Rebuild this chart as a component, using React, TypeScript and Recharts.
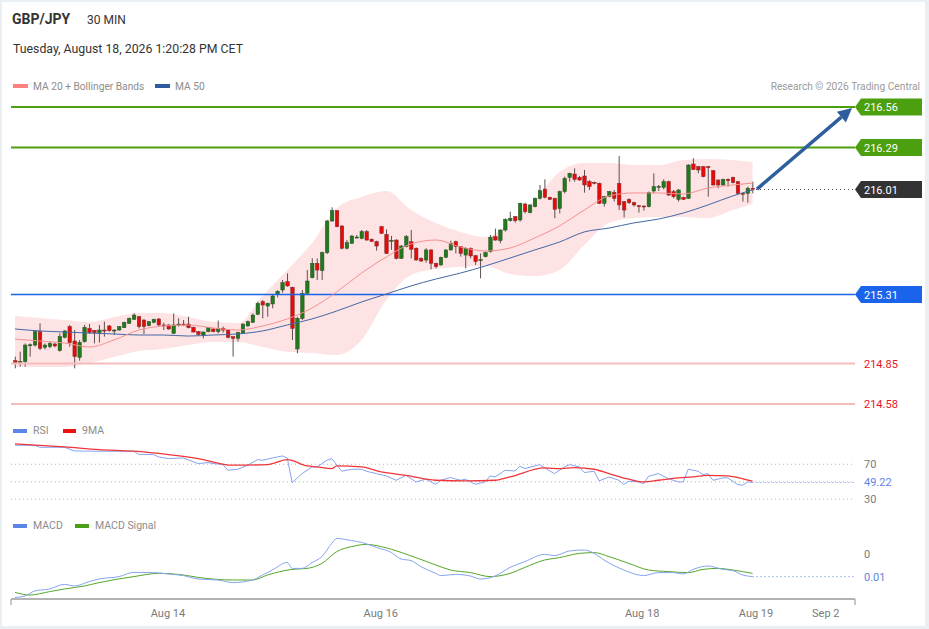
import React from 'react';
import { ComposedChart, Bar, Line, Area, XAxis, YAxis, ReferenceLine, ReferenceDot } from 'recharts';

// x positions are candle indexes (30 min bars), the domain leaves room for the tags on the right
const X_MIN = -0.81;
const X_MAX = 169.7;
const PRICE_DOMAIN: [number, number] = [214.5, 216.64];
const RSI_DOMAIN: [number, number] = [20, 102.3];
const MACD_DOMAIN: [number, number] = [-0.0225, 0.012];

// [open, high, low, close]
const CANDLES: [number, number, number, number][] = [
  [214.869, 214.896, 214.818, 214.856], [214.858, 214.929, 214.829, 214.864], [214.862, 214.984, 214.829, 214.973],
  [214.972, 214.984, 214.896, 214.975], [214.973, 215.073, 214.962, 215.062], [215.062, 215.118, 214.94, 214.951],
  [214.958, 214.984, 214.944, 214.973], [214.962, 214.996, 214.951, 214.984], [214.98, 214.989, 214.958, 214.967],
  [214.936, 215.051, 214.929, 215.029], [215.024, 215.073, 215.018, 215.067], [215.096, 215.107, 214.962, 214.989],
  [215.0, 215.073, 214.818, 214.896], [214.891, 215.007, 214.869, 214.991], [214.996, 215.107, 214.989, 215.091],
  [215.084, 215.113, 215.047, 215.056], [215.071, 215.073, 214.984, 215.056], [215.056, 215.107, 214.989, 215.073],
  [215.073, 215.129, 215.029, 215.071], [215.1, 215.107, 215.062, 215.069], [215.071, 215.078, 215.04, 215.073],
  [215.073, 215.1, 215.069, 215.096], [215.089, 215.129, 215.087, 215.124], [215.118, 215.156, 215.113, 215.151],
  [215.144, 215.184, 215.14, 215.173], [215.162, 215.167, 215.084, 215.096], [215.14, 215.144, 215.047, 215.096],
  [215.102, 215.133, 215.098, 215.129], [215.124, 215.149, 215.118, 215.144], [215.147, 215.151, 215.096, 215.107],
  [215.107, 215.122, 215.073, 215.105], [215.107, 215.111, 215.076, 215.08], [215.051, 215.184, 215.047, 215.107],
  [215.111, 215.151, 215.096, 215.113], [215.113, 215.14, 215.1, 215.111], [215.113, 215.162, 215.084, 215.089],
  [215.091, 215.096, 215.056, 215.06], [215.062, 215.067, 215.038, 215.044], [215.04, 215.062, 215.018, 215.06],
  [215.062, 215.093, 215.058, 215.089], [215.08, 215.087, 215.058, 215.062], [215.062, 215.136, 215.051, 215.084],
  [215.084, 215.096, 215.056, 215.073], [215.073, 215.078, 215.018, 215.024], [215.029, 215.029, 214.896, 215.018],
  [215.018, 215.062, 214.996, 215.056], [215.051, 215.118, 215.047, 215.113], [215.1, 215.136, 215.096, 215.129],
  [215.124, 215.184, 215.122, 215.173], [215.178, 215.262, 215.173, 215.251], [215.262, 215.273, 215.151, 215.24],
  [215.233, 215.256, 215.162, 215.251], [215.247, 215.307, 215.218, 215.3], [215.313, 215.34, 215.291, 215.331],
  [215.34, 215.407, 215.322, 215.389], [215.396, 215.451, 215.362, 215.367], [215.358, 215.362, 215.007, 215.084],
  [214.947, 215.162, 214.918, 215.151], [215.151, 215.34, 215.14, 215.318], [215.318, 215.473, 215.316, 215.4],
  [215.422, 215.551, 215.418, 215.518], [215.518, 215.551, 215.407, 215.473], [215.469, 215.596, 215.407, 215.589],
  [215.589, 215.807, 215.58, 215.8], [215.8, 215.891, 215.796, 215.869], [215.869, 215.873, 215.758, 215.762],
  [215.767, 215.771, 215.611, 215.618], [215.618, 215.673, 215.611, 215.656], [215.651, 215.707, 215.647, 215.7],
  [215.691, 215.707, 215.684, 215.693], [215.684, 215.74, 215.678, 215.729], [215.729, 215.74, 215.669, 215.673],
  [215.678, 215.684, 215.66, 215.664], [215.662, 215.669, 215.602, 215.633], [215.762, 215.767, 215.713, 215.718],
  [215.711, 215.744, 215.58, 215.584], [215.669, 215.7, 215.607, 215.671], [215.673, 215.678, 215.544, 215.551],
  [215.551, 215.64, 215.547, 215.633], [215.629, 215.707, 215.624, 215.696], [215.662, 215.74, 215.551, 215.611],
  [215.618, 215.624, 215.536, 215.54], [215.551, 215.558, 215.529, 215.533], [215.54, 215.618, 215.522, 215.607],
  [215.607, 215.611, 215.478, 215.518], [215.518, 215.522, 215.484, 215.496], [215.507, 215.562, 215.502, 215.558],
  [215.558, 215.611, 215.553, 215.607], [215.607, 215.669, 215.602, 215.651], [215.662, 215.669, 215.584, 215.629],
  [215.629, 215.633, 215.562, 215.584], [215.573, 215.624, 215.484, 215.618], [215.618, 215.624, 215.551, 215.567],
  [215.569, 215.573, 215.507, 215.529], [215.54, 215.584, 215.418, 215.542], [215.562, 215.596, 215.558, 215.589],
  [215.596, 215.707, 215.589, 215.691], [215.696, 215.749, 215.669, 215.673], [215.669, 215.744, 215.651, 215.74],
  [215.74, 215.818, 215.729, 215.811], [215.802, 215.862, 215.796, 215.818], [215.829, 215.833, 215.789, 215.802],
  [215.807, 215.922, 215.796, 215.918], [215.913, 215.922, 215.851, 215.862], [215.856, 215.911, 215.851, 215.907],
  [215.896, 215.956, 215.891, 215.951], [215.951, 216.04, 215.944, 216.002], [216.013, 216.078, 215.951, 215.958],
  [215.958, 215.962, 215.94, 215.944], [215.951, 215.956, 215.818, 215.878], [215.884, 216.002, 215.851, 215.996],
  [215.996, 216.096, 215.984, 216.084], [216.091, 216.122, 216.062, 216.118], [216.113, 216.151, 216.062, 216.078],
  [216.091, 216.1, 216.069, 216.073], [216.1, 216.14, 215.989, 216.04], [216.062, 216.073, 216.007, 216.029],
  [216.058, 216.062, 216.044, 216.051], [216.051, 216.056, 215.913, 215.918], [215.918, 215.967, 215.896, 215.962],
  [215.962, 216.0, 215.958, 215.996], [215.991, 216.007, 215.929, 215.951], [216.051, 216.233, 215.873, 215.907],
  [215.929, 215.933, 215.824, 215.873], [215.944, 215.951, 215.913, 215.922], [215.922, 215.929, 215.896, 215.907],
  [215.902, 215.907, 215.856, 215.9], [215.9, 215.904, 215.869, 215.898], [215.896, 215.996, 215.891, 215.989],
  [216.0, 216.118, 215.984, 216.029], [216.029, 216.04, 216.0, 216.031], [216.024, 216.078, 216.011, 216.062],
  [216.062, 216.069, 215.967, 215.973], [215.996, 216.007, 215.951, 215.962], [215.944, 216.011, 215.929, 216.007],
  [215.958, 215.962, 215.94, 215.944], [215.951, 216.178, 215.947, 216.173], [216.18, 216.218, 216.14, 216.144],
  [216.162, 216.167, 216.118, 216.14], [216.162, 216.167, 216.091, 216.096], [216.162, 216.167, 215.962, 216.16],
  [216.136, 216.14, 216.036, 216.04], [216.073, 216.078, 216.018, 216.04], [216.04, 216.082, 216.036, 216.078],
  [216.078, 216.084, 216.029, 216.069], [216.091, 216.096, 216.051, 216.056], [216.062, 216.067, 215.98, 215.984],
  [215.984, 215.989, 215.929, 215.982], [215.984, 216.029, 215.922, 216.018], [216.018, 216.062, 215.984, 216.01],
];

const BAND_IDX = [0, 5, 10, 15, 20, 25, 30, 35, 40, 45, 50, 55, 60, 65, 70, 75, 80, 85, 90, 95, 100, 105, 110, 115, 120, 125, 130, 135, 140, 145, 149];
const BAND_UPPER = [215.167, 215.153, 215.14, 215.127, 215.16, 215.187, 215.187, 215.16, 215.127, 215.12, 215.3, 215.473, 215.653, 215.887, 215.96, 216.0, 215.873, 215.787, 215.727, 215.693, 215.793, 215.94, 216.127, 216.187, 216.187, 216.173, 216.173, 216.207, 216.213, 216.207, 216.193];
const BAND_LOWER = [214.827, 214.827, 214.827, 214.853, 214.893, 214.933, 214.947, 214.973, 214.993, 214.993, 214.96, 214.927, 214.92, 214.907, 215.007, 215.273, 215.44, 215.48, 215.493, 215.5, 215.447, 215.433, 215.473, 215.64, 215.787, 215.82, 215.827, 215.827, 215.82, 215.873, 215.913];
const MA20 = [215.013, 215.0, 214.987, 214.96, 215.007, 215.073, 215.1, 215.107, 215.087, 215.073, 215.1, 215.147, 215.22, 215.327, 215.453, 215.56, 215.647, 215.673, 215.627, 215.6, 215.62, 215.687, 215.767, 215.873, 215.967, 215.987, 215.987, 215.98, 216.02, 216.04, 216.053];
const MA50 = [215.08, 215.067, 215.06, 215.053, 215.047, 215.04, 215.04, 215.033, 215.04, 215.047, 215.067, 215.107, 215.147, 215.2, 215.26, 215.313, 215.367, 215.413, 215.453, 215.5, 215.553, 215.607, 215.66, 215.727, 215.753, 215.787, 215.813, 215.853, 215.907, 215.967, 216.007];

const RSI_IDX = [0, 4, 5, 10, 12, 17, 24, 25, 28, 29, 31, 34, 37, 39, 40, 42, 43, 45, 47, 49, 50, 52, 54, 55, 56, 58, 60, 61, 63, 64, 66, 68, 70, 71, 73, 75, 77, 79, 81, 83, 85, 86, 88, 90, 91, 93, 95, 96, 97, 99, 101, 102, 103, 106, 107, 109, 111, 112, 114, 115, 117, 118, 120, 122, 123, 124, 126, 127, 128, 130, 132, 134, 135, 136, 138, 139, 140, 141, 143, 144, 146, 147, 148, 149];
const RSI_VAL = [91.7, 91.7, 89.4, 89.4, 85.2, 84.9, 84.9, 81.4, 81.0, 78.4, 76.5, 77.2, 70.8, 71.9, 70.8, 69.6, 63.1, 64.3, 68.9, 75.3, 74.6, 77.2, 79.5, 77.2, 49.0, 59.3, 67.0, 67.0, 74.6, 76.5, 62.0, 64.3, 64.3, 62.0, 59.3, 56.7, 51.7, 57.4, 49.8, 52.9, 47.1, 51.7, 54.8, 51.7, 52.9, 47.1, 49.8, 56.7, 55.5, 63.1, 62.3, 67.7, 65.0, 69.6, 65.8, 59.3, 67.0, 69.6, 67.0, 60.5, 62.0, 51.0, 55.5, 51.7, 46.8, 50.6, 49.8, 47.9, 56.3, 59.3, 53.6, 49.8, 49.8, 64.3, 62.0, 58.2, 59.3, 51.7, 54.4, 54.4, 46.8, 46.0, 49.8, 49.22];
const RSI_MA_IDX = [0, 10, 17, 24, 31, 37, 44, 51, 55, 59, 61, 64, 65, 70, 74, 79, 85, 91, 97, 100, 107, 110, 113, 117, 120, 124, 127, 130, 134, 137, 140, 144, 146, 149];
const RSI_MA_VAL = [93.2, 89.8, 86.8, 84.9, 81.0, 76.5, 68.9, 69.6, 75.3, 68.1, 67.0, 65.0, 68.1, 67.0, 61.2, 57.4, 51.7, 51.0, 51.7, 55.5, 65.8, 65.0, 66.2, 64.3, 59.3, 52.9, 49.8, 51.7, 54.4, 55.5, 57.4, 56.7, 54.8, 50.6];
const RSI_LEVELS = [70, 50, 30];

const MACD_IDX = [0, 2, 4, 7, 10, 12, 15, 17, 21, 24, 28, 31, 34, 37, 41, 44, 48, 50, 52, 55, 56, 58, 60, 62, 64, 65, 68, 70, 73, 76, 78, 80, 82, 85, 86, 89, 92, 94, 97, 100, 103, 107, 109, 112, 115, 117, 119, 123, 127, 130, 133, 135, 137, 140, 143, 145, 147, 149];
const MACD_VAL = [-0.0217, -0.021, -0.0185, -0.0175, -0.0152, -0.016, -0.0138, -0.0125, -0.0113, -0.0092, -0.0093, -0.01, -0.0108, -0.0125, -0.013, -0.0143, -0.013, -0.0105, -0.008, -0.0042, -0.0072, -0.0072, -0.0043, -0.0013, 0.0053, 0.0078, 0.0067, 0.0058, 0.0033, 0.0008, -0.0025, -0.0033, -0.0063, -0.0097, -0.0108, -0.0102, -0.011, -0.0125, -0.011, -0.0067, -0.0038, -0.0002, -0.0008, 0.0015, 0.002, 0.0003, -0.003, -0.008, -0.0108, -0.0093, -0.0093, -0.01, -0.0077, -0.006, -0.0077, -0.0083, -0.0105, -0.0113];
const SIGNAL_IDX = [0, 3, 7, 10, 14, 17, 24, 29, 34, 37, 44, 48, 51, 56, 59, 62, 65, 68, 71, 74, 78, 81, 85, 88, 92, 96, 100, 103, 107, 110, 114, 117, 120, 124, 128, 132, 136, 139, 142, 145, 149];
const SIGNAL_VAL = [-0.0192, -0.0205, -0.0188, -0.0175, -0.016, -0.0143, -0.0113, -0.0097, -0.0105, -0.0117, -0.013, -0.013, -0.0105, -0.0077, -0.0072, -0.0047, 0.0012, 0.0037, 0.0048, 0.0037, 0.0008, -0.0018, -0.0055, -0.008, -0.0093, -0.0113, -0.0097, -0.0067, -0.003, -0.0018, 0.0003, 0.0007, -0.0013, -0.0047, -0.008, -0.0088, -0.0093, -0.0077, -0.0072, -0.008, -0.0097];

const TICK_POS = [30.9, 73.9, 126.7, 149.7, 163.8];
const TICK_LABELS = ['Aug 14', 'Aug 16', 'Aug 18', 'Aug 19', 'Sep 2'];

const LAST_CLOSE = 216.01;
const TARGET = 216.553;

const GREEN = '#4c9f0e';
const BLUE = '#1a64ec';
const RED_LINE = '#f6bcbc';
const RED_TEXT = '#e8141c';
const ARROW = '#2f5e9e';

const priceRows: any[] = CANDLES.map(([o, h, l, c], i) => ({ i, o, h, l, c, range: [l, h] }));
BAND_IDX.forEach((idx, k) => {
  priceRows[idx].band = [BAND_LOWER[k], BAND_UPPER[k]];
  priceRows[idx].ma20 = MA20[k];
  priceRows[idx].ma50 = MA50[k];
});

function mergeSeries(series: { key: string; idx: number[]; val: number[] }[]) {
  const map = new Map<number, any>();
  series.forEach((s) =>
    s.idx.forEach((i, k) => {
      const row = map.get(i) ?? { i };
      row[s.key] = s.val[k];
      map.set(i, row);
    })
  );
  return [...map.values()].sort((a, b) => a.i - b.i);
}

const rsiRows = mergeSeries([
  { key: 'rsi', idx: RSI_IDX, val: RSI_VAL },
  { key: 'ma', idx: RSI_MA_IDX, val: RSI_MA_VAL },
]);
const macdRows = mergeSeries([
  { key: 'macd', idx: MACD_IDX, val: MACD_VAL },
  { key: 'signal', idx: SIGNAL_IDX, val: SIGNAL_VAL },
]);

const Candle = (props: any) => {
  const { x, y, width, height, payload } = props;
  if (!payload || height == null) return null;
  const { o, h, l, c } = payload;
  const span = h - l || 1e-9;
  const py = (p: number) => y + ((h - p) / span) * height;
  const cx = x + width / 2;
  const top = py(Math.max(o, c));
  const bot = py(Math.min(o, c));
  const up = c >= o;
  return (
    <g>
      <line x1={cx} x2={cx} y1={y} y2={y + height} stroke="#5e5050" strokeWidth={1} />
      <rect
        x={x}
        y={top}
        width={width}
        height={Math.max(1, bot - top)}
        fill={up ? '#1f7a1c' : '#e60a0a'}
        stroke={up ? '#2b4a22' : '#7a2a2a'}
        strokeWidth={0.5}
      />
    </g>
  );
};

const tag = (text: string, bg: string) => (props: any) => {
  const { cx, cy } = props;
  return (
    <g>
      <polygon
        points={`${cx},${cy} ${cx + 6},${cy - 8.5} ${cx + 67},${cy - 8.5} ${cx + 67},${cy + 8.5} ${cx + 6},${cy + 8.5}`}
        fill={bg}
      />
      <text x={cx + 9} y={cy + 4} fill="#ffffff" fontSize={11}>
        {text}
      </text>
    </g>
  );
};

const plainLabel = (text: string, color: string) => (props: any) => {
  const { cx, cy } = props;
  return (
    <text x={cx + 9} y={cy + 4} fill={color} fontSize={11}>
      {text}
    </text>
  );
};

const Arrow = (props: any) => {
  const { x1, y1, x2, y2 } = props;
  const ang = Math.atan2(y2 - y1, x2 - x1);
  const len = 14;
  const half = 7;
  const bx = x2 - len * Math.cos(ang);
  const by = y2 - len * Math.sin(ang);
  const nx = -Math.sin(ang) * half;
  const ny = Math.cos(ang) * half;
  return (
    <g>
      <line x1={x1} y1={y1} x2={bx} y2={by} stroke={ARROW} strokeWidth={3.5} />
      <polygon points={`${x2},${y2} ${bx + nx},${by + ny} ${bx - nx},${by - ny}`} fill={ARROW} />
    </g>
  );
};

const AxisTick = (props: any) => {
  const { x, y, payload } = props;
  const k = TICK_POS.indexOf(payload.value);
  if (k < 0) {
    return <line x1={x} x2={x} y1={y - 8} y2={y - 2} stroke="#b3b3b3" strokeWidth={1.5} />;
  }
  return (
    <text x={x} y={y + 10} textAnchor="middle" fill="#7a7a7a" fontSize={11}>
      {TICK_LABELS[k]}
    </text>
  );
};

const MARGIN_X = { left: 11, right: 74 };
const layer: React.CSSProperties = { position: 'absolute', left: 0, top: 0 };

export default function App() {
  return (
    <div
      style={{
        position: 'absolute',
        left: 0,
        top: 0,
        width: 929,
        height: 629,
        background: '#ffffff',
        fontFamily: "Roboto, 'Liberation Sans', Arial, sans-serif",
        overflow: 'hidden',
      }}
    >
      <div
        style={{
          ...layer,
          width: 929,
          height: 629,
          boxSizing: 'border-box',
          borderStyle: 'solid',
          borderColor: '#eaeff3',
          borderWidth: '2px 4px 3px 2px',
        }}
      />

      <div style={layer}>
        <ComposedChart width={929} height={416} data={priceRows} margin={{ top: 95, bottom: 0, ...MARGIN_X }}>
          <XAxis hide type="number" dataKey="i" domain={[X_MIN, X_MAX]} allowDataOverflow />
          <YAxis hide domain={PRICE_DOMAIN} allowDataOverflow />
          <Area
            dataKey="band"
            type="monotone"
            connectNulls
            stroke="none"
            fill="#fde3e3"
            fillOpacity={1}
            isAnimationActive={false}
          />
          <ReferenceLine y={216.56} stroke={GREEN} strokeWidth={2} />
          <ReferenceLine y={216.29} stroke={GREEN} strokeWidth={2} />
          <ReferenceLine y={215.31} stroke={BLUE} strokeWidth={1.5} />
          <ReferenceLine y={214.85} stroke={RED_LINE} strokeWidth={2} />
          <ReferenceLine y={214.58} stroke={RED_LINE} strokeWidth={2} />
          <Line dataKey="ma50" type="monotone" connectNulls dot={false} stroke="#4467a6" strokeWidth={1} isAnimationActive={false} />
          <Line dataKey="ma20" type="monotone" connectNulls dot={false} stroke="#f59090" strokeWidth={1} isAnimationActive={false} />
          <Bar dataKey="range" barSize={3.5} shape={Candle} isAnimationActive={false} />
          <ReferenceLine
            segment={[{ x: 149.7, y: LAST_CLOSE }, { x: X_MAX, y: LAST_CLOSE }]}
            stroke="#555555"
            strokeDasharray="1 3"
          />
          <ReferenceLine segment={[{ x: 149.9, y: 216.013 }, { x: 169.1, y: TARGET }]} shape={Arrow} />
          <ReferenceDot x={X_MAX} y={216.56} ifOverflow="visible" shape={tag('216.56', GREEN)} />
          <ReferenceDot x={X_MAX} y={216.29} ifOverflow="visible" shape={tag('216.29', GREEN)} />
          <ReferenceDot x={X_MAX} y={LAST_CLOSE} ifOverflow="visible" shape={tag('216.01', '#333333')} />
          <ReferenceDot x={X_MAX} y={215.31} ifOverflow="visible" shape={tag('215.31', BLUE)} />
          <ReferenceDot x={X_MAX} y={214.85} ifOverflow="visible" shape={plainLabel('214.85', RED_TEXT)} />
          <ReferenceDot x={X_MAX} y={214.58} ifOverflow="visible" shape={plainLabel('214.58', RED_TEXT)} />
        </ComposedChart>
      </div>

      <div style={layer}>
        <ComposedChart width={929} height={508} data={rsiRows} margin={{ top: 436, bottom: 0, ...MARGIN_X }}>
          <XAxis hide type="number" dataKey="i" domain={[X_MIN, X_MAX]} allowDataOverflow />
          <YAxis hide domain={RSI_DOMAIN} allowDataOverflow />
          {RSI_LEVELS.map((v) => (
            <ReferenceLine key={v} y={v} stroke="#b5b5b5" strokeDasharray="1 3" />
          ))}
          <ReferenceLine
            segment={[{ x: 149, y: 49.22 }, { x: X_MAX, y: 49.22 }]}
            stroke="#5f83e4"
            strokeDasharray="1 3"
          />
          <Line dataKey="rsi" type="linear" connectNulls dot={false} stroke="#86a4ee" strokeWidth={1} isAnimationActive={false} />
          <Line dataKey="ma" type="monotone" connectNulls dot={false} stroke="#f0353a" strokeWidth={1.3} isAnimationActive={false} />
          <ReferenceDot x={X_MAX} y={70} ifOverflow="visible" shape={plainLabel('70', '#7a7a7a')} />
          <ReferenceDot x={X_MAX} y={49.22} ifOverflow="visible" shape={plainLabel('49.22', '#5f83e4')} />
          <ReferenceDot x={X_MAX} y={30} ifOverflow="visible" shape={plainLabel('30', '#7a7a7a')} />
        </ComposedChart>
      </div>

      <div style={layer}>
        <ComposedChart width={929} height={629} data={macdRows} margin={{ top: 530, bottom: 0, ...MARGIN_X }}>
          <XAxis
            type="number"
            dataKey="i"
            domain={[X_MIN, X_MAX]}
            allowDataOverflow
            ticks={[X_MIN, ...TICK_POS, X_MAX]}
            interval={0}
            tickLine={false}
            axisLine={{ stroke: '#b3b3b3', strokeWidth: 2 }}
            tick={<AxisTick />}
            height={30}
          />
          <YAxis hide domain={MACD_DOMAIN} allowDataOverflow />
          <ReferenceLine
            segment={[{ x: 149, y: MACD_VAL[MACD_VAL.length - 1] }, { x: X_MAX, y: MACD_VAL[MACD_VAL.length - 1] }]}
            stroke="#5f83e4"
            strokeDasharray="1 3"
          />
          <Line dataKey="signal" type="monotone" connectNulls dot={false} stroke="#55a62a" strokeWidth={1} isAnimationActive={false} />
          <Line dataKey="macd" type="monotone" connectNulls dot={false} stroke="#86a4ee" strokeWidth={1} isAnimationActive={false} />
          <ReferenceDot x={X_MAX} y={0} ifOverflow="visible" shape={plainLabel('0', '#7a7a7a')} />
          <ReferenceDot
            x={X_MAX}
            y={MACD_VAL[MACD_VAL.length - 1]}
            ifOverflow="visible"
            shape={plainLabel('0.01', '#5f83e4')}
          />
        </ComposedChart>
      </div>

      <svg style={{ ...layer, pointerEvents: 'none' }} width={929} height={629}>
        <text x={12} y={24} fontSize={14} fontWeight="bold" fill="#333333">GBP/JPY</text>
        <text x={87} y={24} fontSize={12} fill="#333333">30 MIN</text>
        <text x={13} y={53} fontSize={12.3} fill="#333333">Tuesday, August 18, 2026 1:20:28 PM CET</text>

        <rect x={13} y={84} width={15} height={4} fill="#ff7f7f" />
        <text x={33} y={90} fontSize={10.2} fill="#8c8c8c">MA 20 + Bollinger Bands</text>
        <rect x={155} y={84} width={15} height={4} fill="#2e5d9f" />
        <text x={175} y={90} fontSize={10.2} fill="#8c8c8c">MA 50</text>
        <text x={920} y={90} fontSize={10.2} fill="#9a9a9a" textAnchor="end">Research © 2026 Trading Central</text>

        <rect x={13} y={429} width={14} height={4} fill="#5b85e6" />
        <text x={33} y={434} fontSize={10.5} fill="#8c8c8c">RSI</text>
        <rect x={63} y={429} width={13} height={4} fill="#ee1111" />
        <text x={82} y={434} fontSize={10.5} fill="#8c8c8c">9MA</text>

        <rect x={13} y={524} width={14} height={4} fill="#5b85e6" />
        <text x={33} y={529} fontSize={10.5} fill="#8c8c8c">MACD</text>
        <rect x={75} y={524} width={14} height={4} fill="#4a9e1a" />
        <text x={95} y={529} fontSize={10.5} fill="#8c8c8c">MACD Signal</text>
      </svg>
    </div>
  );
}
